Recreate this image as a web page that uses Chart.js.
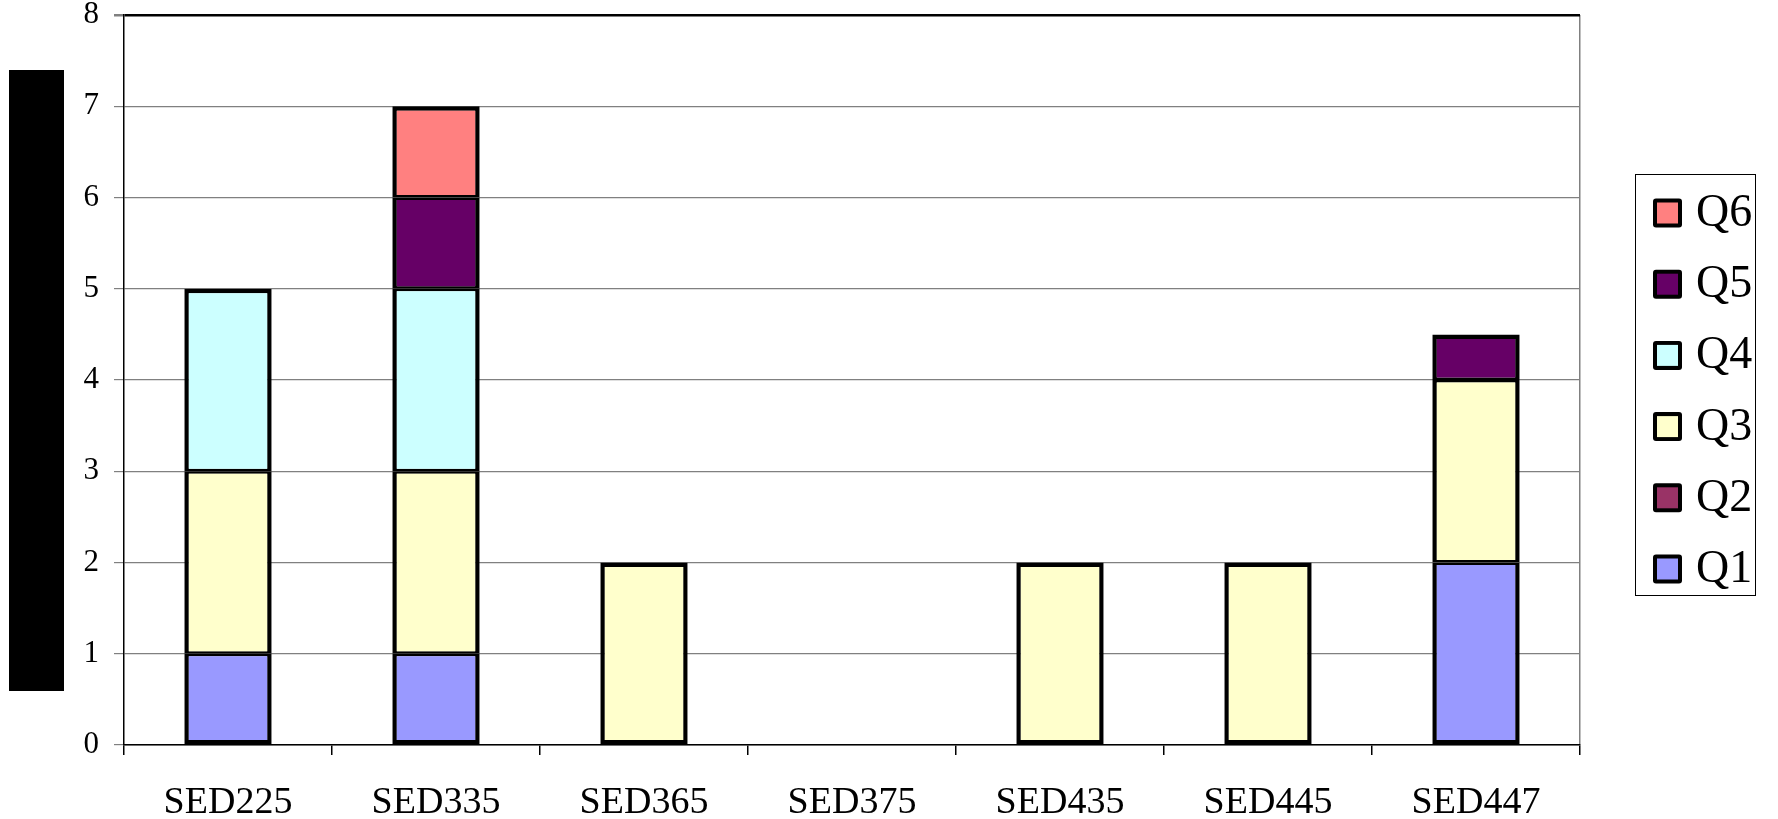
<!DOCTYPE html>
<html>
<head>
<meta charset="utf-8">
<script src="https://cdn.jsdelivr.net/npm/chart.js@4"></script>
<style>
  html, body { margin: 0; padding: 0; background: #fff; }
  #wrap { position: relative; width: 1778px; height: 819px; }
</style>
</head>
<body>
<div id="wrap"><canvas id="c" width="1778" height="819"></canvas></div>
<script>
// ---- data ----
const categories = ['SED225', 'SED335', 'SED365', 'SED375', 'SED435', 'SED445', 'SED447'];
const seriesNames = ['Q1', 'Q2', 'Q3', 'Q4', 'Q5', 'Q6'];
const q1 = [1, 1, 0, 0, 0, 0, 2];
const q2 = [0, 0, 0, 0, 0, 0, 0];
const q3 = [2, 2, 2, 0, 2, 2, 2];
const q4 = [2, 2, 0, 0, 0, 0, 0];
const q5 = [0, 1, 0, 0, 0, 0, 0.5];
const q6 = [0, 1, 0, 0, 0, 0, 0];
const yTicks = [0, 1, 2, 3, 4, 5, 6, 7, 8];

// ---- styles ----
const seriesColors = ['#9999FF', '#993366', '#FFFFCC', '#CCFFFF', '#660066', '#FF8080'];
const seriesValues = [q1, q2, q3, q4, q5, q6];
const SERIF = '"Liberation Serif", "Times New Roman", serif';

function segBorder(ctx) {
  const i = ctx.dataIndex, d = ctx.datasetIndex;
  const ds = ctx.chart.data.datasets;
  let below = false, above = false;
  for (let k = 0; k < d; k++) if (ds[k].data[i]) below = true;
  for (let k = d + 1; k < ds.length; k++) if (ds[k].data[i]) above = true;
  return { left: 4.5, right: 4.5, top: above ? 2.5 : 4.5, bottom: below ? 2.5 : 4.5 };
}

const datasets = seriesNames.map((name, s) => ({
  label: name,
  data: seriesValues[s].map(v => (v === 0 ? null : v)),
  backgroundColor: seriesColors[s],
  borderColor: '#000',
  borderWidth: segBorder,
  borderSkipped: false,
  barPercentage: 0.42,
  categoryPercentage: 1.0
}));

const decorPlugin = {
  id: 'decor',
  beforeDraw(chart) {
    const c = chart.ctx;
    c.save();
    c.fillStyle = '#000';
    c.fillRect(9, 70, 55, 621);
    c.restore();
  },
  afterDraw(chart) {
    const c = chart.ctx;
    const area = chart.chartArea;
    const bx = area.right + 55, by = 174, bw = 120, bh = 421;
    c.save();
    c.strokeStyle = '#000';
    c.lineWidth = 1;
    c.strokeRect(bx + 0.5, by + 0.5, bw, bh);
    const items = chart.data.datasets.map((d, i) => ({ label: d.label, color: d.backgroundColor })).reverse();
    items.forEach((it, i) => {
      const cy = by + 39 + i * 71.2;
      const mx = bx + 18, ms = 29;
      c.fillStyle = '#000';
      c.beginPath();
      if (c.roundRect) c.roundRect(mx, cy - ms / 2, ms, ms, 3); else c.rect(mx, cy - ms / 2, ms, ms);
      c.fill();
      c.fillStyle = it.color;
      c.fillRect(mx + 4, cy - ms / 2 + 4, ms - 8, ms - 8);
      c.fillStyle = '#000';
      c.font = '46px ' + SERIF;
      c.textBaseline = 'middle';
      c.textAlign = 'left';
      c.fillText(it.label, bx + 61, cy + 1);
    });
    c.restore();
  }
};

new Chart(document.getElementById('c'), {
  type: 'bar',
  data: { labels: categories, datasets },
  options: {
    responsive: false,
    animation: false,
    devicePixelRatio: 1,
    layout: { padding: { left: 0, top: 15, right: 198, bottom: 0 } },
    plugins: {
      legend: { display: false },
      tooltip: { enabled: false },
      title: { display: false }
    },
    scales: {
      x: {
        stacked: true,
        grid: {
          offset: true,
          color: ctx => (ctx.type === 'scale' ? '#808080' : 'rgba(0,0,0,0)'),
          lineWidth: 1.5,
          tickColor: '#000',
          tickLength: 10,
          drawOnChartArea: true
        },
        border: { color: '#000', width: 1.5 },
        ticks: {
          color: '#000',
          font: { family: SERIF, size: 38 },
          padding: 25,
          maxRotation: 0,
          autoSkip: false
        },
        afterFit: s => { s.height = 74; s.paddingLeft = 0; s.paddingRight = 0; }
      },
      y: {
        stacked: true,
        min: 0,
        max: 8,
        afterBuildTicks: s => { s.ticks = yTicks.map(v => ({ value: v })); },
        grid: {
          color: ctx => (ctx.tick && ctx.tick.value === 8 ? '#000' : '#808080'),
          lineWidth: ctx => (ctx.tick && ctx.tick.value === 8 ? 2.5 : 1.2),
          tickColor: '#808080',
          tickLength: 10
        },
        border: { color: '#000', width: 1.5 },
        ticks: {
          color: '#000',
          font: { family: SERIF, size: 31, lineHeight: 1.0 },
          padding: 15
        },
        afterFit: s => { s.width = 124; s.paddingTop = 0; s.paddingBottom = 0; }
      }
    }
  },
  plugins: [decorPlugin]
});
</script>
</body>
</html>
